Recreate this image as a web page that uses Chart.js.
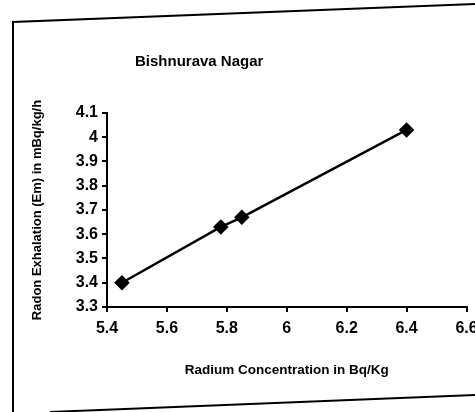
<!DOCTYPE html>
<html>
<head>
<meta charset="utf-8">
<script src="https://cdn.jsdelivr.net/npm/chart.js@4/dist/chart.umd.min.js"></script>
<style>
html,body{margin:0;padding:0;background:#fff;}
#wrap{width:475px;height:412px;position:relative;}
</style>
</head>
<body>
<div id="wrap"><canvas id="c" width="475" height="412"></canvas></div>
<script>
const chartTitle = "Bishnurava Nagar";
const xTitle = "Radium Concentration in Bq/Kg";
const yTitle = "Radon Exhalation (Em) in mBq/kg/h";
const radiumConc = [5.45, 5.78, 5.85, 6.40];
const radonExhal = [3.40, 3.63, 3.67, 4.03];
const xTicks = [5.4, 5.6, 5.8, 6, 6.2, 6.4, 6.6];
const yTicks = [3.3, 3.4, 3.5, 3.6, 3.7, 3.8, 3.9, 4, 4.1];

const FONT = "'Liberation Sans Narrow','Liberation Sans',Arial,sans-serif";

const points = radiumConc.map((x, i) => ({x: x, y: radonExhal[i]}));

const framePlugin = {
  id: 'frame',
  beforeDraw(chart) {
    const ctx = chart.ctx;
    ctx.save();
    ctx.fillStyle = '#fff';
    ctx.fillRect(0, 0, chart.width, chart.height);
    ctx.strokeStyle = '#000';
    ctx.lineWidth = 2;
    ctx.beginPath();
    ctx.moveTo(475, 4);
    ctx.lineTo(13, 22);
    ctx.lineTo(13, 412);
    ctx.moveTo(50, 412);
    ctx.lineTo(475, 395);
    ctx.stroke();
    ctx.restore();
  },
  afterDraw(chart) {
    const ctx = chart.ctx;
    const a = chart.chartArea;
    ctx.save();
    ctx.fillStyle = '#000';
    ctx.font = "bold 15px " + FONT;
    ctx.textBaseline = 'middle';
    ctx.textAlign = 'left';
    ctx.fillText(chartTitle, a.left + 28, 62);
    ctx.restore();
  }
};

new Chart(document.getElementById('c'), {
  type: 'scatter',
  data: {
    datasets: [{
      data: points,
      showLine: true,
      borderColor: '#000',
      borderWidth: 2.5,
      backgroundColor: '#000',
      pointStyle: 'rectRot',
      pointRadius: 6,
      pointBorderColor: '#000',
      pointBackgroundColor: '#000',
      tension: 0
    }]
  },
  options: {
    responsive: false,
    animation: false,
    devicePixelRatio: 1,
    layout: {padding: {left: 30, top: 113, right: 8, bottom: 30}},
    plugins: {legend: {display: false}, title: {display: false}, tooltip: {enabled: false}},
    scales: {
      x: {
        type: 'linear', min: 5.4, max: 6.6,
        afterBuildTicks(s) { s.ticks = xTicks.map(v => ({value: v})); },
        afterFit(s) { s.height = 75; s.paddingRight = 0; s.paddingLeft = 0; },
        border: {color: '#000', width: 2},
        grid: {drawOnChartArea: false, color: '#000', tickLength: 5, lineWidth: 2},
        ticks: {color: '#000', font: {family: FONT, size: 16, weight: 'bold'}, padding: 7, maxRotation: 0,
          callback: v => String(v)},
        title: {display: true, text: xTitle, color: '#000', font: {family: FONT, size: 13.5, weight: 'bold'}, padding: {top: 10}}
      },
      y: {
        type: 'linear', min: 3.3, max: 4.1,
        afterBuildTicks(s) { s.ticks = yTicks.map(v => ({value: v})); },
        afterFit(s) { s.width = 77; s.paddingTop = 0; s.paddingBottom = 0; },
        border: {color: '#000', width: 2},
        grid: {drawOnChartArea: false, color: '#000', tickLength: 5, lineWidth: 2},
        ticks: {color: '#000', font: {family: FONT, size: 16, weight: 'bold'}, padding: 4,
          callback: v => String(Math.round(v * 10) / 10)},
        title: {display: true, text: yTitle, color: '#000', font: {family: FONT, size: 13, weight: 'bold'}, padding: 0}
      }
    }
  },
  plugins: [framePlugin]
});
</script>
</body>
</html>
